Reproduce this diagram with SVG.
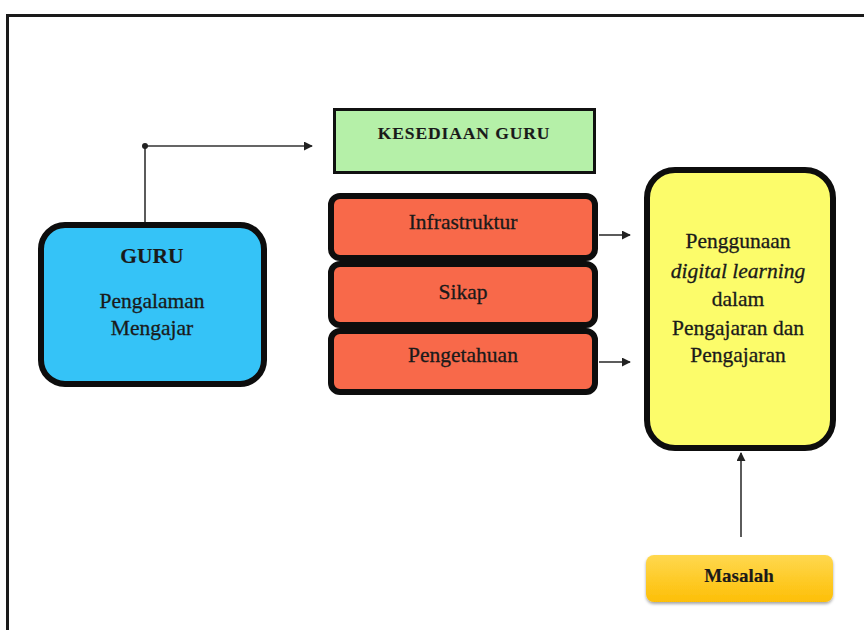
<svg xmlns="http://www.w3.org/2000/svg" width="864" height="630" viewBox="0 0 864 630">
<style>
.t{font-family:"Liberation Serif","DejaVu Serif",serif;fill:#1a1a1a;text-anchor:middle;font-size:21.5px;stroke:#1a1a1a;stroke-width:0.3}
.b{font-weight:bold;stroke-width:0.15}
.c{stroke:#333;stroke-width:1.6;fill:none}
</style>
<defs>
<marker id="ah" viewBox="0 0 10 10" refX="9" refY="5" markerWidth="9" markerHeight="9" markerUnits="userSpaceOnUse" orient="auto">
<path d="M0,0 L10,5 L0,10 z" fill="#222"/>
</marker>
<linearGradient id="gm" x1="0" y1="0" x2="0" y2="1">
<stop offset="0" stop-color="#ffd84f"/>
<stop offset="1" stop-color="#fdbf06"/>
</linearGradient>
<filter id="sh" x="-10%" y="-20%" width="120%" height="150%">
<feDropShadow dx="0" dy="2" stdDeviation="1.5" flood-color="#000" flood-opacity="0.35"/>
</filter>
</defs>
<rect width="864" height="630" fill="#fff"/>
<path d="M7.5,630 V15.5 H864" fill="none" stroke="#1a1a1a" stroke-width="3"/>
<g id="connectors">
<path class="c" d="M145,222 V146 H312" marker-end="url(#ah)"/>
<circle cx="145" cy="146" r="3" fill="#222"/>
<path class="c" d="M599,235 H630" marker-end="url(#ah)"/>
<path class="c" d="M599,362 H630" marker-end="url(#ah)"/>
<path class="c" d="M741,537 V453" marker-end="url(#ah)"/>
</g>
<g id="guru">
<rect x="41" y="225" width="223" height="159" rx="24" fill="#35c3f7" stroke="#0d0d0d" stroke-width="6"/>
<text class="t b" x="152" y="263">GURU</text>
<text class="t" x="152" y="308">Pengalaman</text>
<text class="t" x="152" y="335">Mengajar</text>
</g>
<g id="kesediaan">
<rect x="334.5" y="109.5" width="260" height="63" fill="#b5f0a8" stroke="#111" stroke-width="3"/>
<text class="t b" x="464" y="139" letter-spacing="0.9" style="font-size:17.5px">KESEDIAAN GURU</text>
</g>
<g id="infrastruktur">
<rect x="331" y="196" width="264" height="62" rx="9" fill="#f8694a" stroke="#0d0d0d" stroke-width="6"/>
<text class="t" x="463" y="229">Infrastruktur</text>
</g>
<g id="sikap">
<rect x="331" y="264" width="264" height="61" rx="9" fill="#f8694a" stroke="#0d0d0d" stroke-width="6"/>
<text class="t" x="463" y="299">Sikap</text>
</g>
<g id="pengetahuan">
<rect x="331" y="331" width="264" height="61" rx="9" fill="#f8694a" stroke="#0d0d0d" stroke-width="6"/>
<text class="t" x="463" y="362">Pengetahuan</text>
</g>
<g id="penggunaan">
<rect x="647" y="170" width="186" height="278" rx="28" fill="#fcfc6a" stroke="#0d0d0d" stroke-width="6"/>
<text class="t" x="738" y="248">Penggunaan</text>
<text class="t" x="738" y="278" font-style="italic">digital learning</text>
<text class="t" x="738" y="306">dalam</text>
<text class="t" x="738" y="335">Pengajaran dan</text>
<text class="t" x="738" y="362">Pengajaran</text>
</g>
<g id="masalah">
<rect x="646" y="555" width="187" height="47" rx="8" fill="url(#gm)" filter="url(#sh)"/>
<text class="t b" x="739" y="582" style="font-size:19px">Masalah</text>
</g>
</svg>
